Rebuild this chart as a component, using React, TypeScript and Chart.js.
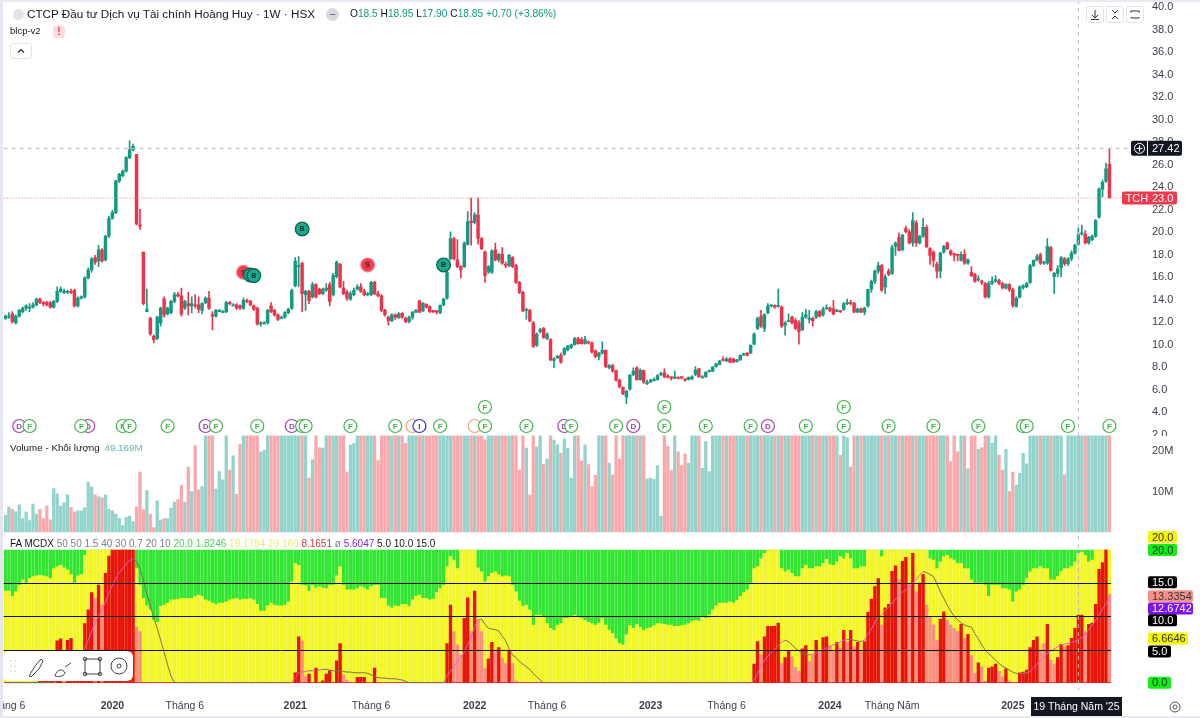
import { useEffect, useRef } from "react";
import Chart from "chart.js/auto";

const opens = [
  12.3,12.4,12.7,11.9,12.5,12.9,13.2,13.3,13.3,13.5,
  14.0,13.7,13.7,13.7,13.3,13.8,14.7,14.6,14.6,14.7,
  14.8,13.4,14.1,14.2,15.9,16.6,17.7,17.4,18.4,17.5,
  19.6,21.2,21.7,24.5,25.0,25.4,26.6,27.3,26.9,20.6,
  18.2,12.9,12.3,10.7,10.5,11.9,14.0,12.7,12.8,13.8,
  14.4,14.3,13.2,13.6,13.4,13.5,13.5,13.0,13.7,14.1,
  12.6,12.5,13.0,12.9,12.9,13.7,13.5,13.5,13.4,13.2,
  13.9,13.8,13.4,13.2,11.9,11.9,11.9,13.4,13.0,12.6,
  12.4,12.4,12.8,13.2,15.2,17.0,17.2,14.4,14.7,14.2,
  15.3,14.9,14.5,14.8,15.3,14.4,16.0,17.1,15.0,14.6,
  14.0,14.4,14.9,15.1,14.7,14.4,14.4,15.5,14.5,14.3,
  13.0,12.4,12.1,12.6,12.35,12.75,12.3,12.0,12.4,12.85,
  13.85,12.95,13.55,13.35,12.95,12.9,12.8,13.5,14.1,17.6,
  19.4,17.5,16.9,16.9,18.9,20.95,20.85,21.5,19.4,18.2,
  16.4,16.4,18.4,17.5,18.0,17.1,17.0,17.7,17.0,15.5,
  14.6,13.0,13.0,11.9,9.9,11.1,11.4,10.5,10.4,8.55,
  8.8,9.0,9.1,9.5,9.7,9.95,10.5,10.4,10.05,10.15,
  10.1,9.4,8.9,9.2,9.45,7.9,8.1,7.65,6.8,6.15,
  5.3,6.0,7.3,7.9,6.85,7.65,6.6,6.65,6.85,6.85,
  7.3,7.45,7.15,7.0,6.98,6.98,7.05,6.85,6.85,6.9,
  7.3,7.8,7.1,7.1,7.55,7.6,8.0,8.2,8.6,8.5,
  8.7,8.7,8.45,8.6,9.05,9.2,9.2,10.0,11.4,12.5,
  11.4,12.8,13.4,13.45,13.35,13.3,11.7,12.1,12.4,12.1,
  11.9,11.3,12.4,12.3,12.3,12.4,12.9,12.6,13.15,13.2,
  13.15,13.0,12.95,13.1,13.6,13.65,13.65,12.85,13.15,12.85,
  13.4,14.9,15.6,16.5,17.0,15.1,16.5,16.3,18.7,19.5,
  18.4,20.3,20.0,19.0,20.8,19.0,19.6,20.4,18.5,18.2,
  17.1,16.5,18.2,19.0,18.3,18.0,17.95,17.45,18.0,17.2,
  16.4,16.2,15.7,15.55,15.4,14.2,15.4,15.6,15.65,15.4,
  15.0,15.3,14.85,13.35,14.2,15.05,15.1,15.5,17.0,17.5,
  17.95,17.2,17.2,18.6,16.0,16.3,16.8,17.6,17.15,17.6,
  18.1,18.9,19.8,19.8,19.0,19.3,19.6,21.3,23.8,24.5,
  26.0,
];

const closes = [
  12.5,12.5,12.0,12.5,13.0,13.2,13.4,13.3,13.5,14.0,
  13.7,13.6,13.5,13.3,13.8,14.7,14.9,14.7,14.7,14.6,
  13.4,14.1,14.2,15.9,16.6,17.6,17.3,18.4,17.4,19.6,
  21.2,21.7,24.5,25.1,25.4,26.6,27.3,27.6,20.7,20.5,
  13.6,13.1,10.9,10.4,12.4,13.2,12.6,13.2,13.8,14.4,
  14.3,12.7,13.8,13.4,13.6,13.4,13.1,13.6,14.1,13.2,
  12.5,13.0,13.0,12.9,13.7,13.6,13.5,13.2,13.2,13.9,
  13.8,13.5,13.1,11.8,11.9,11.9,13.0,12.9,12.6,12.2,
  12.4,12.8,13.1,14.8,17.4,17.0,14.5,14.7,13.9,15.3,
  14.2,14.5,14.9,15.0,13.8,16.1,17.3,15.1,14.5,14.1,
  14.5,14.8,15.1,14.7,14.4,14.5,15.5,14.5,14.3,13.0,
  12.6,12.1,12.6,12.4,12.7,12.4,12.0,12.4,12.85,13.0,
  12.85,13.65,13.3,12.9,12.9,12.85,13.45,14.0,16.4,19.4,
  17.6,16.9,16.6,19.0,20.9,20.8,21.5,19.4,18.5,16.1,
  16.9,18.3,17.5,18.0,17.2,17.0,17.9,16.9,15.5,14.6,
  12.95,13.1,12.05,9.8,10.9,11.3,10.6,10.9,8.6,8.7,
  8.9,8.4,9.6,9.8,9.95,10.5,10.05,10.05,10.4,10.1,
  9.3,8.9,9.2,9.45,8.0,8.1,7.6,6.8,6.2,5.6,
  5.8,7.25,7.6,6.85,7.7,6.65,6.6,6.8,6.85,7.2,
  7.35,7.1,7.05,6.98,7.0,6.95,7.0,6.8,7.05,7.1,
  7.7,7.1,7.1,7.5,7.6,7.95,8.25,8.5,8.55,8.7,
  8.4,8.4,8.6,9.0,9.1,9.0,9.9,10.9,12.3,11.6,
  12.65,13.4,13.45,13.3,13.4,11.6,11.9,12.1,11.9,11.4,
  11.1,12.4,12.6,12.3,12.1,12.9,12.5,13.1,13.2,13.0,
  12.7,13.0,12.9,13.6,13.65,13.6,12.85,13.15,12.85,13.2,
  14.85,15.6,16.5,17.0,14.8,16.0,16.2,18.6,19.0,18.35,
  19.7,20.0,19.0,21.0,19.0,19.6,20.4,18.65,17.9,17.45,
  16.5,18.1,18.7,18.5,18.0,17.95,17.9,18.0,17.2,17.5,
  16.1,15.6,15.75,15.5,14.2,15.4,15.6,15.75,15.4,15.0,
  15.3,14.85,13.45,14.1,15.1,15.2,15.4,17.0,17.45,17.8,
  17.2,17.25,18.7,16.55,16.3,16.7,17.7,17.15,17.6,18.1,
  18.8,19.8,19.9,19.0,19.5,19.6,21.0,23.8,24.4,25.6,
  23.0,
];

const highs = [
  12.6,12.8,12.9,12.6,13.1,13.3,13.5,13.6,13.7,14.1,
  14.1,13.8,13.8,13.8,13.9,15.1,15.1,14.9,14.8,14.9,
  14.9,14.2,14.3,16.0,16.8,17.7,17.9,18.8,18.5,19.7,
  21.4,21.9,24.6,25.2,25.5,26.7,28.1,27.8,26.9,22.0,
  18.2,14.9,12.4,10.8,12.5,13.3,14.2,13.3,13.9,14.6,
  14.6,15.0,13.9,14.6,14.2,14.4,14.2,13.7,14.2,14.7,
  12.9,13.1,13.1,13.0,13.8,13.8,13.6,13.6,13.5,14.1,
  14.0,13.9,13.5,13.3,12.0,12.0,13.1,13.7,13.1,12.7,
  12.5,12.9,13.2,14.9,17.7,17.8,17.3,14.8,14.8,15.5,
  15.4,15.0,15.0,15.4,15.5,16.3,17.4,17.2,15.6,14.8,
  14.7,15.0,15.3,15.4,14.9,14.6,15.6,15.6,14.7,14.4,
  13.1,12.5,12.7,12.7,12.8,12.8,12.4,12.5,12.9,13.1,
  13.9,13.7,13.6,13.4,13.0,13.0,13.5,14.1,16.5,20.0,
  19.5,19.3,17.0,19.1,21.8,23.0,21.7,23.0,19.5,18.3,
  17.0,18.4,19.0,18.1,18.6,17.3,18.0,17.8,17.1,15.6,
  14.7,13.2,13.1,12.0,11.0,11.4,11.5,11.0,10.5,8.8,
  9.0,9.2,9.7,9.9,10.0,10.6,10.6,10.6,10.7,10.3,
  10.2,9.5,9.3,10.2,9.5,8.2,8.2,7.7,6.9,6.2,
  5.9,7.3,7.9,8.0,7.8,7.7,6.8,6.9,7.0,7.3,
  7.5,7.8,7.3,7.1,7.6,7.1,7.1,6.9,7.1,7.2,
  8.0,7.85,7.2,7.55,7.7,8.0,8.3,8.55,8.9,8.8,
  8.8,8.75,8.65,9.05,9.2,9.25,9.95,11.0,12.4,13.0,
  12.7,13.6,13.5,13.5,14.9,13.4,12.0,12.7,12.5,12.3,
  12.1,12.8,13.1,13.0,12.4,13.0,13.0,13.3,13.5,13.3,
  13.9,13.1,13.0,13.7,14.0,13.9,13.7,13.2,13.2,13.3,
  14.9,15.7,16.6,17.3,17.1,16.2,16.7,18.8,19.1,19.9,
  19.8,20.5,20.2,21.7,21.0,19.7,21.2,20.6,18.6,18.3,
  17.3,18.2,18.8,19.1,18.4,18.1,18.0,18.2,18.4,17.6,
  16.9,16.3,16.1,15.7,15.5,15.6,16.0,16.1,15.8,15.5,
  15.4,15.4,15.0,14.2,15.2,15.3,15.5,17.1,17.5,18.0,
  18.1,17.4,19.4,18.7,16.4,17.0,17.8,17.7,17.7,18.3,
  18.9,20.3,20.6,20.1,19.6,19.7,21.1,23.9,24.6,26.1,
  27.4,
];

const lows = [
  12.2,12.3,11.9,11.8,12.4,12.8,13.0,12.9,13.2,13.4,
  13.6,13.4,13.4,13.2,13.2,13.7,14.6,14.5,14.5,14.5,
  13.3,13.3,14.0,14.1,15.8,16.4,17.1,16.9,17.3,17.4,
  19.5,21.1,21.6,24.4,24.9,25.3,26.5,27.2,20.6,20.2,
  13.5,12.9,10.8,10.1,10.4,11.6,12.4,12.6,12.7,13.7,
  14.2,12.5,13.1,12.6,12.8,13.2,12.8,12.7,13.6,13.1,
  11.3,12.4,12.9,12.8,12.8,13.5,13.4,13.1,13.1,13.1,
  13.7,13.4,13.0,11.7,11.6,11.8,11.8,12.8,12.5,12.1,
  12.3,12.3,12.7,13.1,15.1,15.1,12.9,13.0,13.6,14.1,
  14.1,14.4,14.4,14.7,13.4,14.3,15.9,15.0,14.4,13.9,
  13.9,14.3,14.8,14.6,14.3,14.3,14.3,14.4,14.2,12.9,
  12.5,11.7,12.0,12.2,12.3,12.3,11.9,11.9,12.2,12.8,
  12.8,12.9,13.2,12.8,12.8,12.7,12.7,13.4,14.0,17.5,
  17.5,16.8,15.9,16.8,18.8,18.8,20.7,18.9,18.4,15.5,
  16.3,16.3,17.4,17.3,17.1,16.8,16.9,16.8,15.4,14.5,
  12.9,12.2,12.0,9.7,9.8,11.0,10.5,10.4,8.5,7.9,
  8.7,8.3,9.0,9.4,9.6,9.9,10.0,10.0,10.0,10.0,
  9.2,8.8,8.6,9.1,7.9,7.8,7.5,6.7,6.1,5.5,
  4.7,5.9,7.2,6.8,6.8,6.5,6.4,6.6,6.7,6.8,
  7.2,7.0,7.0,6.8,6.9,6.9,6.9,6.7,6.8,6.85,
  7.2,7.05,7.0,7.05,7.5,7.55,7.95,8.15,8.5,8.45,
  8.35,8.35,8.4,8.55,9.0,8.95,9.15,9.95,11.3,11.5,
  11.1,12.7,13.3,13.2,13.3,11.5,10.8,12.0,11.8,11.3,
  10.0,11.2,12.3,11.9,11.6,12.3,12.4,12.5,13.1,12.9,
  12.6,12.9,12.8,13.0,13.5,13.5,12.8,12.8,12.8,12.6,
  13.3,14.6,15.4,16.3,14.7,14.5,16.1,16.2,17.9,18.3,
  18.3,19.9,18.9,18.7,18.7,18.9,19.5,18.6,17.1,16.9,
  15.9,15.9,18.1,18.4,17.9,17.4,17.4,17.4,17.1,17.1,
  16.0,15.5,15.6,15.3,14.1,14.1,15.3,15.5,15.3,14.9,
  14.9,14.7,13.3,13.3,14.1,14.9,15.0,15.4,16.9,17.4,
  17.1,17.1,17.1,16.5,14.5,16.0,16.0,17.0,17.0,17.4,
  18.0,18.8,19.7,18.9,18.9,19.2,19.5,21.2,23.1,24.4,
  23.0,
];

// volume in millions, the ones at 26 run past the top of the pane
const volumes = [
  4.1,6.2,5.6,5,6.7,3.3,5,2.8,6.9,4.4,
  5.6,3.3,6.4,3,10.7,9.4,6.4,7.2,9.2,6,
  5,5.2,5.2,6,12.3,11.1,9.2,8.7,8.4,9.2,
  5.6,5.2,4.4,3.4,1.6,3.6,3.9,2.6,6.2,14.8,
  5.5,10.2,4.4,1.1,7.7,3,3.4,3.3,5.9,7.4,
  8,11.5,7.4,16,10,21.3,10.4,11.2,26,26,
  26,10.6,14.9,12.9,26,15.3,18.8,9.3,21.6,26,
  26,26,26,26,19.8,20.2,26,26,26,26,
  26,26,26,26,26,26,26,26,13.3,17.8,
  26,20.8,20.7,26,26,26,26,26,26,14.8,
  21.5,21.9,26,26,26,26,26,26,17.6,26,
  26,26,26,26,26,26,21.9,26,26,26,
  26,26,26,26,26,26,26,26,26,26,
  26,26,26,26,26,26,26,26,26,22.7,
  26,26,26,26,26,26,26,26,26,15.3,
  26,20.7,9.2,26,21,26,16.6,18,26,22.7,
  21.5,19.4,23,20.7,13.3,26,26,17.5,21.5,16.6,
  11.2,14,26,26,26,17,14.1,26,18,26,
  26,26,26,26,26,26,13.1,13.3,13,16.4,
  3.9,26,21.2,15.2,26,19.8,16.4,19.2,17,26,
  26,26,15.7,22.3,14.9,26,26,26,26,26,
  26,26,26,26,26,26,26,26,26,26,
  26,26,26,26,26,26,26,26,26,26,
  26,26,26,26,26,26,26,26,26,26,
  26,26,18.9,26,23.3,16.1,26,26,26,26,
  26,26,26,26,26,26,26,26,26,26,
  26,26,26,26,26,26,26,26,26,26,
  26,26,26,26,17.4,26,19.8,26,26,15.6,
  26,26,20.4,20.8,26,26,21.9,26,19,15.3,
  20.4,10,14.8,11.6,14.5,19.4,16.8,26,26,26,
  26,26,26,26,26,26,26,14.1,26,26,
  26,26,26,26,26,26,26,26,26,26,
  49.169,
];

// green area of FA MCDX hangs from 20 down to this value, yellow fills below
const mcdxGreenFloor = [
  13.8,13.8,13,13.7,14.7,15.5,15,15.7,16,16.1,
  16.2,16.1,16,15.7,17.2,17.5,17.7,17.3,17,16.3,
  15,16.1,16.3,19.2,20,20,20,20,20,20,
  20,20,20,20,20,20,20,20,17.2,14.7,
  12.7,11.6,11,9.4,9.1,11.5,11.7,12,12.5,12.5,
  12.6,12.7,12.7,12.7,12.7,13,13.2,13,12.5,12.3,
  12,11.8,12,12,12.2,12.5,12.6,12.7,12.5,12.6,
  12.6,12.7,12.5,11.8,10.8,10.8,11.6,12,11.7,11.6,
  11.6,11.7,12.2,15.2,18,17.7,14.7,14.6,13.8,14.7,
  14.3,14.5,14.3,14.2,14.7,14.7,16.1,17.5,14.7,14,
  14,14,14.2,14.5,14.3,14,14.5,14.7,14.7,12.7,
  12.7,11.6,11.3,11.6,11.5,11.8,11.8,11.5,12.5,13,
  13.2,12.7,12.7,12.5,12.6,13.6,14.2,14.7,17.5,19,
  18.5,17.2,20,20,20,20,20,17.3,16.7,15.2,
  16,16.5,16.7,16.3,16,16.1,16,14.7,13.7,12.3,
  11.5,11.7,11,8.7,10.2,10.2,10,8.9,8.2,7.9,
  8.7,8.9,9.7,9.7,10,10.2,10,9.7,9.4,9.1,
  8.9,8.7,9,9.7,8.7,7.9,7.4,6.6,5.9,5.7,
  7.2,8.6,8.2,8.8,8.3,7.9,8.2,8.3,8.6,8.9,
  8.9,8.8,8.7,8.7,8.5,8.5,8.6,8.7,8.9,9.2,
  9.4,9.3,9.9,9.7,10.2,11,11.6,12,12,12,
  12.2,12,12.4,13,13.6,14,15,17.2,17.5,18.7,
  19.5,20,20,20,20,17.2,16.7,17,16.5,16,
  16,17.2,17.7,17.2,17.2,17.5,17.5,18,18.6,17.8,
  17.7,18.2,19,18.7,19.5,18.7,17.2,17.2,17.5,17.5,
  20,20,20,20,19,20,20,20,20,20,
  20,20,20,20,20,20,20,20,18.7,18.5,
  17.2,18.2,19,19.2,18.7,18.5,18,18,17.2,17.2,
  15.5,15,15,15,14.7,13,14.7,14.7,14.7,14.2,
  14.2,14,12.2,13.7,14,14.7,15.7,16.7,17.2,17.2,
  17.5,17.2,17.2,15.5,15.5,16,16.8,17.2,17.2,17.5,
  18.2,19.5,19.7,19.2,18.2,18.5,20,20,20,20,
  20,
];

const mcdxRed = [
  0,0,0,0,0,0,0,0,0,0,
  3,3,3,3,3,6.3,6.6,0,6.4,6.7,
  3,3,3,8.9,11,13.6,0,14.7,0,16.5,
  19.1,20,20,20,20,20,20,20,0,0,
  0,0,0,0,0,0,0,0,0,0,
  0,0,0,0,0,0,0,0,0,0,
  0,0,0,0,0,0,0,0,0,0,
  0,0,0,0,0,0,0,0,0,0,
  0,0,0,0,1.5,6.9,0,0,1.3,0,
  2.2,0,0.3,1.3,1.8,0,3.3,5.9,0,0,
  0,0,0.8,0.8,0.8,0,0,2.2,0,0,
  0,0,0,0,0,0,0,0,0,0,
  0,0,0,0,0,0,0,0,5.9,11.7,
  0,0,0,9.7,12.8,0,13.8,0,0,0,
  3.6,6.1,0,5.3,0,0,4.9,0,0,0,
  0,0,0,0,0,0,0,0,0,0,
  0,0,0,0,0,0,0,0,0,0,
  0,0,0,0,0,0,0,0,0,0,
  0,0,0,0,0,0,0,0,0,0,
  0,0,0,0,0,0,0,0,0,0,
  0,0,0,0,0,0,0,0,0,0,
  0,0,0,0,0,0,0,2.8,6.2,0,
  6.9,8.5,8.5,8.5,9,0,3.8,4.8,0,0,
  0,5.1,5.6,0,0,6.4,0,6.8,6.9,0,
  0,6.1,0,7.9,0,7.9,0,6.1,0,6.2,
  10.6,12.6,14.5,15.7,0,11.3,11.8,16.8,17.6,0,
  18.3,18.9,0,19.5,0,15,16.3,0,0,0,
  0,9.6,10.7,0,0,0,0,8.8,0,7.3,
  0,0,3,0,0,2.2,2.4,2.8,0,0,
  2.1,0,0,0,1.5,1.6,1.9,5.3,6.4,6.9,
  0,0,8.8,0,0,3.8,5.8,0,5.6,6.7,
  8.2,10.2,10.2,0,8.8,9,11.8,17.1,18.1,20,
  0,
];

const mcdxPink = [
  0,0,0,0,0,0,0,0,0,0,
  0,0,0,0,0,0,0,0,0,0,
  0,0,0,0,0,0,12.7,0,11.7,0,
  0,0,0,0,0,0,0,0,8.4,7.7,
  0,0,0,0,0,0,0,0,0,0,
  0,0,0,0,0,0,0,0,0,0,
  0,0,0,0,0,0,0,0,0,0,
  0,0,0,0,0,0,0,0,0,0,
  0,0,0,0,0,0,6.3,0.9,0,0,
  0,0,0,0,0,0,0,0,1.2,0.4,
  0,0,0,0,0,0,0,0,0,0,
  0,0,0,0,0,0,0,0,0,0,
  0,0,0,0,0,0,0,0,0,0,
  7.7,5.7,4.2,0,0,7.7,0,9.4,7.7,2.2,
  0,0,4.7,0,3.7,2.9,0,2.9,0.3,0,
  0,0,0,0,0,0,0,0,0,0,
  0,0,0,0,0,0,0,0,0,0,
  0,0,0,0,0,0,0,0,0,0,
  0,0,0,0,0,0,0,0,0,0,
  0,0,0,0,0,0,0,0,0,0,
  0,0,0,0,0,0,0,0,0,0,
  0,0,0,0,0,0,0,0,0,4.2,
  0,0,0,0,0,2.9,0,0,3.9,2.3,
  1.7,0,0,3.2,4.2,0,4.7,0,0,5.6,
  4.7,0,5.2,0,6.2,0,5.4,0,4.7,0,
  0,0,0,0,8.7,0,0,0,0,15.5,
  0,0,15,0,13.7,0,0,11.7,10,8.7,
  6.4,0,0,9.4,8.7,8.2,7.7,0,6.7,0,
  4.1,1.4,0,2.4,0.2,0,0,0,1.7,0.9,
  0,0.3,0,0,0,0,0,0,0,0,
  4.9,5.9,0,3.4,2.8,0,0,5.4,0,0,
  0,0,0,7.7,0,0,0,0,0,0,
  13.3354,
];

const mcdxSignal = [
  0,0,0,0,0,0,0,0,0,0,
  0,0,0,0,0,0.5,1,1.2,1.8,2.5,
  3,3.5,4.4,5.2,6.4,7.8,9,10.1,11,12.2,
  13.5,14.7,15.7,16.6,17.2,17.9,18.4,18.7,18.3,17.2,
  15.4,13.4,11.6,9.8,8.2,6.4,4.6,2.7,1,0,
  0,0,0,0,0,0,0,0,0,0,
  0,0,0,0,0,0,0,0,0,0,
  0,0,0,0,0,0,0,0,0,0,
  0,0,0,0,0.8,1.5,1.6,1.7,1.8,1.8,
  1.9,1.9,2,2,1.9,1.8,1.8,1.8,1.7,1.6,
  1.6,1.5,1.5,1.5,1.5,1.4,1.2,0.9,0.8,0.7,
  0.7,0.6,0.6,0.6,0.5,0.4,0.2,0,0,0,
  0,0,0,0,0,0,0,0,1,1.7,
  2.5,3.2,3.8,4.6,5.8,6.9,8.5,9.5,9.6,8.8,
  8.2,8.1,8,7.8,7,6.3,5.1,4.2,3.8,3.2,
  2.8,2.4,2,1.4,0.9,0.4,0,0,0,0,
  0,0,0,0,0,0,0,0,0,0,
  0,0,0,0,0,0,0,0,0,0,
  0,0,0,0,0,0,0,0,0,0,
  0,0,0,0,0,0,0,0,0,0,
  0,0,0,0,0,0,0,0,0,0,
  0,0,0,0,0,0,0,0.4,1.3,2.5,
  3.3,4,4.6,5.1,5.6,6.1,6.4,6.2,5.7,5.2,
  4.8,4.4,4.2,4.2,4.3,4.5,4.7,5,5.2,5.4,
  5.7,5.9,6.2,6.4,6.5,6.5,6.4,6.3,6.2,6.4,
  7.3,8.1,9.1,9.9,10.2,10.9,11.4,12,12.6,13.2,
  13.6,14,14.5,15,15.6,16.2,16.8,16.6,16.3,16,
  14.9,13.7,12.7,11.7,10.8,10,9.5,9,8.7,8.5,
  8.4,7.4,6.6,5.7,4.9,4.4,3.9,3.4,2.9,2.5,
  2.2,1.9,1.6,1.4,1.4,1.4,1.5,1.7,2.2,2.8,
  3.4,3.9,4.4,4.8,5.1,5.4,5.7,5.8,5.9,6.1,
  6.2,6.5,6.8,7.2,8,8.7,9.4,10.2,11.1,11.9,
  12.6742,
];

const timeLabels: Record<number, string> = {
  2: "áng 6", 31: "2020", 52: "Tháng 6", 84: "2021", 106: "Tháng 6", 136: "2022",
  157: "Tháng 6", 187: "2023", 209: "Tháng 6", 239: "2024", 257: "Tháng Năm", 292: "2025",
};
const slotCount = 324;
const priceTicks = [2, 4, 6, 8, 10, 12, 14, 16, 18, 20, 22, 24, 26, 28, 30, 32, 34, 36, 38, 40];
const volumeTicks = [10, 20];
const mcdxLevels = [5, 10, 15];

const fMarks = [7, 22, 34, 36, 47, 61, 73, 86, 87, 100, 113, 126, 139, 151, 164, 177, 191, 203, 216, 232, 243, 256, 269, 282, 295, 296, 308, 320];
const fMarksHigh = [139, 191, 243];
const dMarks = [4, 24, 58, 83, 162, 182, 221];
const iMarks = [120];
const orangeMarks = [118, 136];
const buySell = [
  { index: 69, price: 16.4, letter: "S" },
  { index: 71, price: 16.15, letter: "B" },
  { index: 72, price: 16.1, letter: "B" },
  { index: 86, price: 20.25, letter: "B" },
  { index: 105, price: 17.05, letter: "S" },
  { index: 127, price: 17.05, letter: "B" },
];

const mcdxBadges = [
  { value: 20, shift: -13, text: "20.0", bg: "#f5f500", fg: "#333", w: 29 },
  { value: 20, shift: 0, text: "20.0", bg: "#14ee14", fg: "#234", w: 29 },
  { value: 15, shift: -1, text: "15.0", bg: "#000", fg: "#fff", w: 29 },
  { value: 13.3354, shift: 2, text: "13.3354", bg: "#f88f8a", fg: "#333", w: 45 },
  { value: 12.6742, shift: 10, text: "12.6742", bg: "#7b12f0", fg: "#fff", w: 45 },
  { value: 10, shift: 4, text: "10.0", bg: "#000", fg: "#fff", w: 29 },
  { value: 6.6646, shift: 0, text: "6.6646", bg: "#f5f500", fg: "#333", w: 40 },
  { value: 5, shift: 2, text: "5.0", bg: "#000", fg: "#fff", w: 23 },
  { value: 0, shift: 0, text: "0.0", bg: "#14ee14", fg: "#234", w: 23 },
];

const UP = "#149a82";
const DOWN = "#ec3349";
const UI_FONT = '"Liberation Sans", Arial, sans-serif';
const AXIS_TEXT = "#3a3e49";

const overlays = {
  id: "overlays",
  afterDatasetsDraw(chart: any) {
    const { ctx, chartArea, scales } = chart;
    const x = scales.x;
    const price = scales.price;
    const volume = scales.volume;
    const mcdx = scales.mcdx;
    const lastX = x.getPixelForValue(320) + 1.7;

    ctx.save();

    // right axis labels of the price and volume panes
    ctx.font = `11px ${UI_FONT}`;
    ctx.fillStyle = AXIS_TEXT;
    ctx.textAlign = "left";
    ctx.textBaseline = "middle";
    ctx.save();
    ctx.beginPath();
    ctx.rect(1122, 0, 78, 436);
    ctx.clip();
    priceTicks.forEach((t) => ctx.fillText(t.toFixed(1), 1152, price.getPixelForValue(t) + 0.5));
    ctx.restore();
    volumeTicks.forEach((t) => ctx.fillText(`${t}M`, 1152, volume.getPixelForValue(t) + 0.5));

    // time axis labels, years in bold
    ctx.textAlign = "center";
    Object.entries(timeLabels).forEach(([i, text]) => {
      ctx.font = `${/^\d{4}$/.test(text) ? "bold " : ""}10.5px ${UI_FONT}`;
      ctx.fillText(text, x.getPixelForValue(Number(i)), 706.5);
    });
    ctx.textAlign = "left";

    // black level lines in the lower pane
    ctx.strokeStyle = "#111";
    ctx.lineWidth = 1;
    mcdxLevels.forEach((level) => {
      const y = Math.round(mcdx.getPixelForValue(level)) + 0.5;
      ctx.beginPath();
      ctx.moveTo(chartArea.left, y);
      ctx.lineTo(lastX, y);
      ctx.stroke();
    });

    // crosshair and last price lines
    const crossX = x.getPixelForValue(311);
    ctx.setLineDash([4, 4]);
    ctx.strokeStyle = "#b4b8c2";
    ctx.beginPath();
    ctx.moveTo(crossX, 0);
    ctx.lineTo(crossX, 690);
    ctx.stroke();
    const crossY = price.getPixelForValue(27.42);
    ctx.beginPath();
    ctx.moveTo(chartArea.left, crossY);
    ctx.lineTo(1131, crossY);
    ctx.stroke();
    ctx.setLineDash([1, 2]);
    ctx.strokeStyle = "#f0778a";
    const lastY = price.getPixelForValue(23);
    ctx.beginPath();
    ctx.moveTo(chartArea.left, lastY);
    ctx.lineTo(1122, lastY);
    ctx.stroke();
    ctx.setLineDash([]);

    // earnings / dividend style circles above the volume pane
    const circle = (index: number, value: number, letter: string, color: string) => {
      const cx = x.getPixelForValue(index);
      const cy = price.getPixelForValue(value);
      ctx.beginPath();
      ctx.arc(cx, cy, 6.5, 0, Math.PI * 2);
      ctx.fillStyle = "#fff";
      ctx.fill();
      ctx.lineWidth = 1.2;
      ctx.strokeStyle = color;
      ctx.stroke();
      ctx.fillStyle = color;
      ctx.font = `bold 8px ${UI_FONT}`;
      ctx.textAlign = "center";
      ctx.textBaseline = "middle";
      ctx.fillText(letter, cx, cy + 0.5);
    };
    orangeMarks.forEach((i) => circle(i, 2.72, "", "#f2a36b"));
    dMarks.forEach((i) => circle(i, 2.72, "D", "#a23fb0"));
    iMarks.forEach((i) => circle(i, 2.72, "I", "#2a35c9"));
    fMarks.forEach((i) => circle(i, 2.72, "F", "#3fb54a"));
    fMarksHigh.forEach((i) => circle(i, 4.41, "F", "#3fb54a"));

    // buy and sell signals
    buySell.forEach((m) => {
      const cx = x.getPixelForValue(m.index);
      const cy = price.getPixelForValue(m.price);
      const sell = m.letter === "S";
      ctx.beginPath();
      ctx.arc(cx, cy, 6.8, 0, Math.PI * 2);
      ctx.fillStyle = sell ? "#f0394d" : "#1fa88e";
      ctx.fill();
      ctx.lineWidth = 1.4;
      ctx.strokeStyle = sell ? "#e9808b" : "#0c6b58";
      ctx.stroke();
      ctx.fillStyle = sell ? "#5a1018" : "#06332a";
      ctx.font = `bold 7px ${UI_FONT}`;
      ctx.textAlign = "center";
      ctx.textBaseline = "middle";
      ctx.fillText(m.letter, cx, cy + 0.5);
    });

    // price axis badges
    ctx.textBaseline = "middle";
    ctx.font = `11px ${UI_FONT}`;
    ctx.textAlign = "left";
    const rounded = (bx: number, by: number, w: number, h: number, fill: string) => {
      ctx.beginPath();
      ctx.roundRect(bx, by, w, h, 2);
      ctx.fillStyle = fill;
      ctx.fill();
    };
    rounded(1131, crossY - 7.5, 51, 15, "#131722");
    ctx.strokeStyle = "#fff";
    ctx.lineWidth = 1;
    ctx.beginPath();
    ctx.arc(1139.5, crossY, 5, 0, Math.PI * 2);
    ctx.moveTo(1136.5, crossY);
    ctx.lineTo(1142.5, crossY);
    ctx.moveTo(1139.5, crossY - 3);
    ctx.lineTo(1139.5, crossY + 3);
    ctx.moveTo(1147.5, crossY - 7.5);
    ctx.lineTo(1147.5, crossY + 7.5);
    ctx.stroke();
    ctx.fillStyle = "#fff";
    ctx.fillText("27.42", 1152, crossY + 0.5);

    rounded(1122, lastY - 6.5, 55, 13, "#f0394d");
    ctx.fillStyle = "#fff";
    ctx.fillText("TCH", 1125.5, lastY + 0.5);
    ctx.fillText("23.0", 1152, lastY + 0.5);

    // FA MCDX value badges
    mcdxBadges.forEach((b) => {
      const y = mcdx.getPixelForValue(b.value) + b.shift;
      rounded(1148, y - 6, b.w, 12, b.bg);
      ctx.fillStyle = b.fg;
      ctx.fillText(b.text, 1152, y + 0.5);
    });

    // crosshair time label
    ctx.fillStyle = "#131722";
    ctx.fillRect(1031, 697, 91, 19);
    ctx.fillStyle = "#fff";
    ctx.textAlign = "center";
    ctx.font = `10.5px ${UI_FONT}`;
    ctx.fillText("19 Tháng Năm '25", 1076.5, 707);
    ctx.restore();
  },
};

const labelStyle = (left: number, top: number): React.CSSProperties => ({
  position: "absolute",
  left,
  top,
  whiteSpace: "nowrap",
  fontFamily: UI_FONT,
  lineHeight: "14px",
  color: "#131722",
});

const iconBox: React.CSSProperties = {
  position: "absolute",
  top: 6,
  width: 16,
  height: 15,
  border: "1px solid #e0e3eb",
  borderRadius: 3,
  background: "#fff",
};

const App = () => {
  const canvasRef = useRef<HTMLCanvasElement>(null);

  useEffect(() => {
    if (!canvasRef.current) return;
    const labels = Array.from({ length: slotCount }, (_, i) => timeLabels[i] ?? "");
    const up = closes.map((c, i) => c >= opens[i]);

    const chart = new Chart(canvasRef.current, {
      type: "bar",
      data: {
        labels,
        datasets: [
          {
            label: "Wicks",
            data: highs.map((h, i) => [lows[i], h]),
            yAxisID: "price",
            backgroundColor: up.map((u) => (u ? UP : DOWN)),
            barThickness: 1,
            grouped: false,
            order: 9,
          },
          {
            label: "Bodies",
            data: opens.map((o, i) => [o, closes[i]]),
            yAxisID: "price",
            backgroundColor: up.map((u) => (u ? UP : DOWN)),
            barThickness: 2.8,
            minBarLength: 1.2,
            grouped: false,
            order: 8,
          },
          {
            label: "Volume",
            data: volumes,
            yAxisID: "volume",
            backgroundColor: up.map((u) => (u ? "#92d3cb" : "#f9a9ab")),
            barThickness: 2.6,
            grouped: false,
            clip: { left: 0, right: 0, top: -435.5, bottom: 0 },
            order: 7,
          },
          {
            label: "MCDX green",
            data: mcdxGreenFloor.map((g) => [g, 20]),
            yAxisID: "mcdx",
            backgroundColor: "#33e533",
            barThickness: 2.7,
            grouped: false,
            order: 6,
          },
          {
            label: "MCDX yellow",
            data: mcdxGreenFloor.map((g) => [0, g]),
            yAxisID: "mcdx",
            backgroundColor: "#f2f526",
            barThickness: 2.7,
            grouped: false,
            order: 5,
          },
          {
            label: "MCDX pink",
            data: mcdxPink,
            yAxisID: "mcdx",
            backgroundColor: "#f78f85",
            barThickness: 2.7,
            grouped: false,
            order: 4,
          },
          {
            label: "MCDX red",
            data: mcdxRed,
            yAxisID: "mcdx",
            backgroundColor: "#e8120f",
            barThickness: 2.7,
            grouped: false,
            order: 3,
          },
          {
            type: "line",
            label: "MCDX signal",
            data: mcdxSignal,
            yAxisID: "mcdx",
            borderWidth: 1,
            borderColor: "#77714f",
            pointRadius: 0,
            tension: 0,
            segment: {
              borderColor: (c: any) => (c.p1.parsed.y > c.p0.parsed.y ? "#d85fc8" : "#77714f"),
            },
            order: 1,
          },
        ],
      } as any,
      options: {
        responsive: false,
        animation: false,
        events: [],
        layout: { padding: { left: 3.7, right: 78.5, top: 0, bottom: 28 } },
        plugins: { legend: { display: false }, tooltip: { enabled: false } },
        scales: {
          x: { type: "category", display: false },
          // all three share the chart area, their ranges put each pane in its own band
          price: { type: "linear", display: false, min: -20.77, max: 40.62 },
          volume: { type: "linear", display: false, min: -38.96, max: 131.2 },
          mcdx: { type: "linear", display: false, min: -1.1, max: 102.9 },
        },
      } as any,
      plugins: [overlays],
    });

    return () => chart.destroy();
  }, []);

  return (
    <div style={{ position: "absolute", left: 0, top: 0, width: 1200, height: 718, overflow: "hidden", background: "#fff" }}>
      <canvas ref={canvasRef} width={1200} height={718} style={{ position: "absolute", left: 0, top: 0 }} />

      {/* frame of the screenshot */}
      <div style={{ position: "absolute", left: 0, top: 0, width: 3, height: 718, background: "#e6e6f2" }} />
      <div style={{ position: "absolute", left: 0, top: 0, width: 1200, height: 2, background: "#e9e9f3" }} />
      <div style={{ position: "absolute", left: 0, top: 716, width: 1200, height: 2, background: "#e9e9f3" }} />

      {/* legends */}
      <div style={{ position: "absolute", left: 13, top: 9, width: 11, height: 11, borderRadius: 6, background: "#e1e3ea" }} />
      <span style={{ ...labelStyle(27, 7), fontSize: 11.7 }}>CTCP Đầu tư Dịch vụ Tài chính Hoàng Huy · 1W · HSX</span>
      <div style={{ position: "absolute", left: 326, top: 8, width: 13, height: 13, borderRadius: 7, background: "#d8dae1", color: "#555", fontSize: 10, lineHeight: "12px", textAlign: "center", fontFamily: UI_FONT }}>–</div>
      <span style={{ ...labelStyle(350, 7), fontSize: 10.2 }}>
        O<span style={{ color: UP }}>18.5</span> H<span style={{ color: UP }}>18.95</span> L<span style={{ color: UP }}>17.90</span> C<span style={{ color: UP }}>18.85</span>{" "}
        <span style={{ color: UP }}>+0.70 (+3.86%)</span>
      </span>
      <span style={{ ...labelStyle(10, 24), fontSize: 9.5 }}>blcp-v2</span>
      <div style={{ position: "absolute", left: 53, top: 25, width: 12, height: 13, borderRadius: 4, background: "#fbdde0", color: "#e8394d", fontSize: 10, fontWeight: "bold", lineHeight: "13px", textAlign: "center", fontFamily: UI_FONT }}>!</div>
      <div style={{ position: "absolute", left: 10, top: 43, width: 20, height: 14, border: "1px solid #e0e3eb", borderRadius: 3, background: "#fff" }}>
        <svg width="20" height="14" style={{ display: "block" }}>
          <path d="M7 8.5 L10 5.5 L13 8.5" fill="none" stroke="#222" strokeWidth="1.2" />
        </svg>
      </div>
      <span style={{ ...labelStyle(10, 441), fontSize: 9.8 }}>
        Volume - Khối lượng <span style={{ color: "#62b8ae", marginLeft: 2 }}>49.169M</span>
      </span>
      <span style={{ ...labelStyle(10, 537), fontSize: 10 }}>
        FA MCDX <span style={{ color: "#7a7e8a" }}>50 50 1.5 40 30 0.7 20 10</span>{" "}
        <span style={{ color: "#4fd24f" }}>20.0</span> <span style={{ color: "#4fd24f" }}>1.8246</span>{" "}
        <span style={{ color: "#ecec7a" }}>19.1784</span> <span style={{ color: "#ecec7a" }}>19.166</span>{" "}
        <span style={{ color: "#d9323c" }}>8.1651</span> <span style={{ color: "#7a7e8a" }}>ø</span>{" "}
        <span style={{ color: "#7b2bd0" }}>5.6047</span> 5.0 10.0 15.0
      </span>

      {/* top right buttons */}
      <div style={{ ...iconBox, left: 1086 }}>
        <svg width="16" height="15"><path d="M8 3 V11 M5 8 L8 11 L11 8 M4 12.5 H12" fill="none" stroke="#333" /></svg>
      </div>
      <div style={{ ...iconBox, left: 1106 }}>
        <svg width="16" height="15"><path d="M5 3 L8 6 L11 3 M5 12 L8 9 L11 12" fill="none" stroke="#333" /></svg>
      </div>
      <div style={{ ...iconBox, left: 1126 }}>
        <svg width="16" height="15"><path d="M4 5 V4 H12 V5 M4 10 V11 H12 V10 M4 5 H3 M12 5 H13" fill="none" stroke="#333" /></svg>
      </div>

      {/* floating drawing toolbar */}
      <div style={{ position: "absolute", left: 3, top: 651, width: 130, height: 30, background: "#fff", borderRadius: 6 }}>
        <svg width="130" height="30" style={{ display: "block" }}>
          <g fill="#c8ccd4">
            <circle cx="8" cy="10" r="0.8" /><circle cx="12" cy="10" r="0.8" />
            <circle cx="8" cy="15" r="0.8" /><circle cx="12" cy="15" r="0.8" />
            <circle cx="8" cy="20" r="0.8" /><circle cx="12" cy="20" r="0.8" />
          </g>
          <g fill="none" stroke="#444" strokeWidth="1">
            <path d="M26 25 L32 15 L38 8 L40 10 L36 18 L28 26 Z" />
            <path d="M52 25 C54 18 60 17 62 22 C60 26 55 26 52 25 M62 16 L68 12" />
            <rect x="82" y="8" width="15" height="15" />
            <circle cx="82" cy="8" r="1.8" /><circle cx="97" cy="8" r="1.8" />
            <circle cx="82" cy="23" r="1.8" /><circle cx="97" cy="23" r="1.8" />
            <circle cx="116" cy="15" r="8" />
            <circle cx="116" cy="15" r="2" />
          </g>
        </svg>
      </div>

      {/* settings gear on the time axis */}
      <svg width="14" height="14" style={{ position: "absolute", left: 1168, top: 700 }}>
        <circle cx="7" cy="7" r="5" fill="none" stroke="#555" />
        <circle cx="7" cy="7" r="2" fill="none" stroke="#555" />
      </svg>
    </div>
  );
};

export default App;
